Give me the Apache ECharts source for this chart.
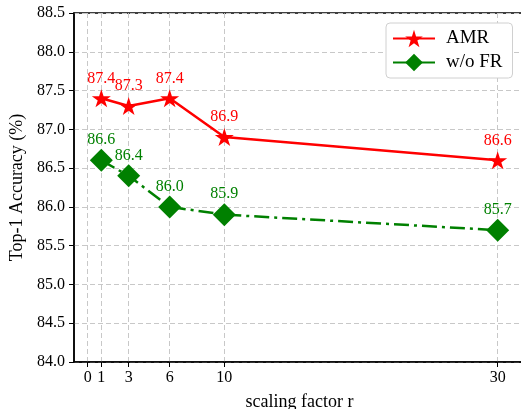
<!DOCTYPE html>
<html>
<head>
<meta charset="utf-8">
<script src="https://cdn.jsdelivr.net/npm/echarts@6/dist/echarts.min.js"></script>
<style>
  html, body { margin: 0; padding: 0; background: #fff; }
  #chart { width: 521px; height: 409px; }
</style>
</head>
<body>
<div id="chart"></div>
<script>
// scaling factor r and accuracies
const scaleR = [1, 3, 6, 10, 30]
const amrAcc = [87.4, 87.3, 87.4, 86.9, 86.6]
const woFrAcc = [86.6, 86.4, 86.0, 85.9, 85.7]
const xTicks = [0, 1, 3, 6, 10, 30]

const font = 'Liberation Serif'
const starPath = 'path://M0,-1 L0.2245,-0.309 L0.9511,-0.309 L0.3633,0.118 L0.5878,0.809 L0,0.382 L-0.5878,0.809 L-0.3633,0.118 L-0.9511,-0.309 L-0.2245,-0.309 Z'

const pairs = (xs, ys) => xs.map((x, i) => [x, ys[i]])

const myChart = echarts.init(document.getElementById('chart'))

const gridLine = { show: true, lineStyle: { color: '#c8c8c8', type: [5, 3], width: 1 } }

myChart.setOption({
  animation: false,
  grid: {
    left: 74, top: 13, right: -4, bottom: 47,
    containLabel: false,
    outerBoundsMode: 'none',
    show: true, borderColor: '#000', borderWidth: 1.5
  },
  legend: {
    orient: 'vertical',
    left: 386, top: 23,
    padding: [6, 10, 6, 6],
    itemGap: 5,
    itemWidth: 42, itemHeight: 22,
    borderColor: '#d0d0d0', borderWidth: 1, borderRadius: 4,
    backgroundColor: '#fff',
    textStyle: { fontFamily: font, fontSize: 19, color: '#000', padding: [0, 0, 0, 6] },
    data: ['AMR', 'w/o FR']
  },
  xAxis: {
    type: 'value',
    min: -1, max: 32,
    name: 'scaling factor r',
    nameLocation: 'middle',
    nameGap: 31,
    nameTextStyle: { fontFamily: font, fontSize: 18, color: '#000' },
    axisLine: { onZero: false, lineStyle: { color: '#000', width: 1.5 } },
    axisTick: { show: true, length: 5, lineStyle: { color: '#000' }, customValues: xTicks },
    axisLabel: { fontFamily: font, fontSize: 16, color: '#000', margin: 8, customValues: xTicks },
    splitLine: gridLine
  },
  yAxis: {
    type: 'value',
    min: 84, max: 88.5, interval: 0.5,
    name: 'Top-1 Accuracy (%)',
    nameLocation: 'middle',
    nameGap: 44,
    nameTextStyle: { fontFamily: font, fontSize: 18, color: '#000' },
    axisLine: { show: true, onZero: false, lineStyle: { color: '#000', width: 1.5 } },
    axisTick: { show: true, length: 5, lineStyle: { color: '#000' } },
    axisLabel: {
      fontFamily: font, fontSize: 16, color: '#000', margin: 9,
      formatter: v => v.toFixed(1)
    },
    splitLine: gridLine
  },
  series: [
    {
      name: 'AMR',
      type: 'line',
      data: pairs(scaleR, amrAcc),
      symbol: starPath,
      symbolSize: [19, 18],
      itemStyle: { color: '#ff0000' },
      lineStyle: { color: '#ff0000', width: 2.5 },
      label: {
        show: true, position: 'top', distance: 3,
        fontFamily: font, fontSize: 16, color: '#ff0000',
        formatter: p => p.value[1].toFixed(1)
      },
      z: 3
    },
    {
      name: 'w/o FR',
      type: 'line',
      data: pairs(scaleR, woFrAcc),
      symbol: 'diamond',
      symbolSize: [23, 23],
      itemStyle: { color: '#008000' },
      lineStyle: { color: '#008000', width: 2.5, type: [15, 5, 3, 5] },
      label: {
        show: true, position: 'top', distance: 1,
        fontFamily: font, fontSize: 16, color: '#008000',
        formatter: p => p.value[1].toFixed(1)
      },
      z: 2
    }
  ]
})
window.addEventListener('resize', myChart.resize)
</script>
</body>
</html>
